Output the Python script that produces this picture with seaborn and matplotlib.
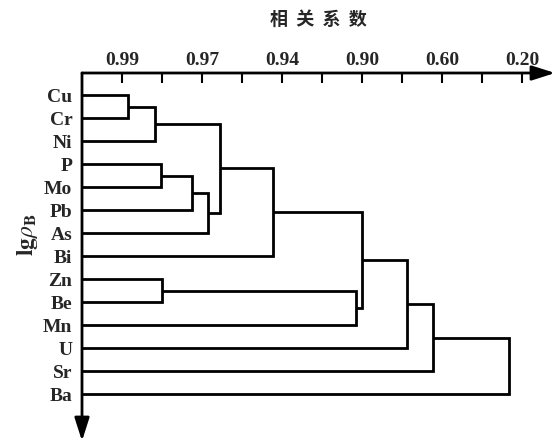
"""
元素聚类谱系图 - 相关系数 R 型聚类
"""

import pandas as pd
import matplotlib.pyplot as plt
import seaborn as sns

# 元素（叶子，自上而下）
elements = ['Cu', 'Cr', 'Ni', 'P', 'Mo', 'Pb', 'As', 'Bi', 'Zn', 'Be', 'Mn', 'U', 'Sr', 'Ba']

# 合并步骤：左簇、右簇（0-13 为叶子，14 起为新簇）、合并位置（以刻度为单位）
merge_left = [0, 14, 3, 16, 17, 15, 19, 8, 21, 20, 23, 24, 25]
merge_right = [1, 2, 4, 5, 6, 18, 7, 9, 10, 22, 11, 12, 13]
merge_pos = [1.15, 1.83, 1.98, 2.75, 3.15, 3.45, 4.78, 2.0, 6.85, 7.0, 8.13, 8.78, 10.68]

# 顶部坐标轴：相关系数刻度（每隔一个刻度标注）
tick_pos = [1, 3, 5, 7, 9, 11]
tick_labels = ['0.99', '0.97', '0.94', '0.90', '0.60', '0.20']

sns.set_theme(style='white')
plt.rcParams['font.family'] = ['Liberation Serif', 'Noto Sans CJK SC', 'DejaVu Sans']
plt.rcParams['mathtext.fontset'] = 'stix'

# 计算每个簇的位置（高度、纵向中点）
node_h = {i: 0.0 for i in range(len(elements))}
node_y = {i: float(i) for i in range(len(elements))}
rows = []
for k, (a, b, h) in enumerate(zip(merge_left, merge_right, merge_pos)):
    new = len(elements) + k
    for x, y in [(node_h[a], node_y[a]), (h, node_y[a]), (h, node_y[b]), (node_h[b], node_y[b])]:
        rows.append({'seg': k, 'x': x, 'y': y})
    node_h[new] = h
    node_y[new] = (node_y[a] + node_y[b]) / 2
df = pd.DataFrame(rows)

fig = plt.figure(figsize=(5.58, 4.44), dpi=100)
ax = fig.add_axes([82 / 558, 3 / 444, 473 / 558, 368 / 444])
sns.lineplot(data=df, x='x', y='y', units='seg', estimator=None, sort=False,
             color='black', lw=2.0, ax=ax, legend=False)
for line in ax.lines:
    line.set_solid_joinstyle('miter')
    line.set_solid_capstyle('butt')

ax.set_xlim(0, 473 / 40)
ax.set_ylim(15.04, -0.957)
for s in ax.spines.values():
    s.set_visible(False)

# 顶部刻度
ax.xaxis.tick_top()
ax.set_xticks(range(1, 12))
ax.set_xticklabels([tick_labels[tick_pos.index(i)] if i in tick_pos else '' for i in range(1, 12)],
                   fontsize=14, fontweight='bold')
ax.tick_params(axis='x', direction='in', length=7, width=1.5, color='black', pad=3, top=True, bottom=False)

# 左侧元素标签
ax.set_yticks(range(len(elements)))
ax.set_yticklabels(elements, fontsize=14, fontweight='bold')
ax.tick_params(axis='y', length=0, pad=7, left=True)
ax.set_xlabel('')
ax.set_ylabel('')

# 坐标轴箭头
arrow = dict(arrowstyle='-|>,head_length=1.0,head_width=0.32', lw=2.0, color='black',
             shrinkA=0, shrinkB=0, mutation_scale=14)
ax.annotate('', xy=(1, 1), xytext=(0, 1), xycoords='axes fraction', arrowprops=arrow, annotation_clip=False)
ax.annotate('', xy=(0, 0), xytext=(0, 1), xycoords='axes fraction', arrowprops=arrow, annotation_clip=False)

fig.text(318 / 558, 1 - 19 / 444, '相  关  系  数', family='Noto Sans CJK SC', fontweight='bold',
         fontsize=13, ha='center', va='center')
fig.text(27 / 558, 1 - 235 / 444, r'$\mathbf{lg}\rho_{\mathbf{B}}$', fontsize=17,
         rotation=90, ha='center', va='center')

fig.savefig('out.png', dpi=100)
